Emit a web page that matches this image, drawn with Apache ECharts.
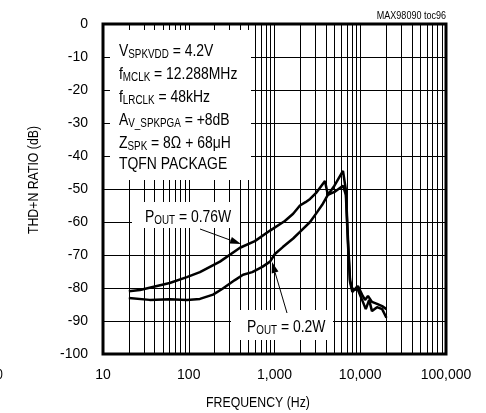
<!DOCTYPE html>
<html>
<head>
<meta charset="utf-8">
<script src="https://cdn.jsdelivr.net/npm/echarts@6/dist/echarts.min.js"></script>
<style>
html, body { margin: 0; padding: 0; background: #fff; }
#chart { width: 486px; height: 413px; }
</style>
</head>
<body>
<div id="chart"></div>
<script>
// axis ticks
var freqTicks = [10, 100, 1000, 10000, 100000];
var freqLabels = ['10', '100', '1,000', '10,000', '100,000'];
var minorSteps = [2, 3, 4, 5, 6, 7, 8, 9];

// P_OUT = 0.76W
var freqHigh = [20, 27, 38, 60, 95, 135, 231, 396, 590, 887, 1320, 1650, 1980, 2300, 2600, 3100, 3880, 4190, 5000, 6290, 6800, 7200, 7600, 8000, 8700, 9400, 10500, 11360, 12300, 13700, 15700, 18000, 20200];
var thdHigh = [-81, -80.6, -79.7, -78.5, -76.7, -75.2, -72, -67.8, -65.8, -62.6, -59.7, -57.5, -55, -54, -53, -51, -47.6, -51.8, -49, -44.5, -50.3, -65.5, -77.6, -80, -80.6, -79.4, -82, -83.6, -82.4, -84.2, -84.8, -85.5, -86.4];

// P_OUT = 0.2W
var freqLow = [20, 35, 60, 95, 135, 192, 245, 345, 430, 550, 720, 887, 1010, 1250, 1650, 1980, 2600, 3140, 3600, 4190, 5000, 6290, 6800, 7200, 7600, 8100, 9100, 10500, 11600, 12700, 13700, 15700, 18000, 20200];
var thdLow = [-83, -83.6, -83.4, -83.6, -83.3, -82, -80.3, -77.6, -76, -75.2, -73.6, -72, -69.7, -67.6, -65, -63, -60, -57, -54.8, -51.8, -50.9, -49, -51.8, -67, -78.2, -81.2, -79.7, -83.6, -86.4, -83.6, -87, -85.8, -86.4, -89];

var FONT = "'Liberation Sans', Arial, sans-serif";
var NARROW = 0.82; // the original lettering is condensed

function pairs(xs, ys) {
    var out = [];
    for (var i = 0; i < xs.length; i++) out.push([xs[i], ys[i]]);
    return out;
}

// minor vertical grid lines 20..90, 200..900 ...
var minorLines = [];
for (var d = 0; d < freqTicks.length - 1; d++) {
    minorSteps.forEach(function (m) { minorLines.push({xAxis: freqTicks[d] * m}); });
}

function arrow(x1, y1, x2, y2) {
    var dx = x2 - x1, dy = y2 - y1, len = Math.sqrt(dx * dx + dy * dy);
    var ux = dx / len, uy = dy / len, hl = 11, hw = 3.5;
    var bx = x2 - ux * hl, by = y2 - uy * hl;
    return [
        {type: 'line', zlevel: 1, shape: {x1: x1, y1: y1, x2: bx, y2: by}, style: {stroke: '#000', lineWidth: 1}},
        {type: 'polygon', zlevel: 1, shape: {points: [[x2, y2], [bx - uy * hw, by + ux * hw], [bx + uy * hw, by - ux * hw]]}, style: {fill: '#000'}}
    ];
}

function whiteBox(x, y, w, h) {
    return {type: 'rect', zlevel: 1, z: 0, shape: {x: x, y: y, width: w, height: h}, style: {fill: '#ffffff', stroke: null}};
}

var rich = {
    m: {fontSize: 17, lineHeight: 20, fontFamily: FONT, color: '#000'},
    s: {fontSize: 12, lineHeight: 12, verticalAlign: 'bottom', fontFamily: FONT, color: '#000'}
};

function note(x, y, text) {
    return {type: 'text', zlevel: 1, z: 1, x: x, y: y, scaleX: NARROW, style: {text: text, rich: rich, align: 'left', verticalAlign: 'middle', fill: '#000'}};
}

function plain(x, y, text, size, align, rot) {
    return {type: 'text', zlevel: 1, z: 1, x: x, y: y, rotation: rot || 0, scaleX: NARROW,
        style: {text: text, font: size + 'px ' + FONT, fill: '#000', align: align, verticalAlign: 'middle'}};
}

var graphics = [
    whiteBox(110, 30, 141, 150),
    whiteBox(132, 202, 108, 26),
    whiteBox(231, 310, 102, 30),
    note(119, 51, '{m|V}{s|SPKVDD}{m| = 4.2V}'),
    note(119, 74, '{m|f}{s|MCLK}{m| = 12.288MHz}'),
    note(119, 97, '{m|f}{s|LRCLK}{m| = 48kHz}'),
    note(119, 120, '{m|A}{s|V_SPKPGA}{m| = +8dB}'),
    note(119, 143, '{m|Z}{s|SPK}{m| = 8\u03A9 + 68\u03BCH}'),
    note(119, 164, '{m|TQFN PACKAGE}'),
    note(145, 217, '{m|P}{s|OUT}{m| = 0.76W}'),
    note(247, 327, '{m|P}{s|OUT}{m| = 0.2W}'),
    plain(446, 16, 'MAX98090 toc96', 11, 'right'),
    plain(34, 180, 'THD+N RATIO (dB)', 15, 'center', Math.PI / 2),
    plain(258, 403, 'FREQUENCY (Hz)', 15, 'center'),
    plain(-4, 375, '0', 15, 'left')
].concat(arrow(200, 229, 241, 244), arrow(287, 313, 272, 262));

var chart = echarts.init(document.getElementById('chart'), null, {renderer: 'canvas'});
chart.setOption({
    animation: false,
    backgroundColor: '#fff',
    grid: {left: 103, right: 40, top: 24, bottom: 59, show: true, borderColor: '#000', borderWidth: 3},
    xAxis: {
        type: 'log', logBase: 10, min: 10, max: 100000,
        axisLine: {show: false},
        axisTick: {show: false},
        splitLine: {show: true, lineStyle: {color: '#000', width: 1}},
        axisLabel: {
            color: '#000', fontSize: 14, fontFamily: FONT, margin: 14,
            formatter: function (v) {
                var i = Math.round(Math.log(v) / Math.LN10) - 1;
                return freqLabels[i] || '';
            }
        }
    },
    yAxis: {
        type: 'value', min: -100, max: 0, interval: 10,
        axisLine: {show: false},
        axisTick: {show: false},
        splitLine: {show: true, lineStyle: {color: '#000', width: 1}},
        axisLabel: {color: '#000', fontSize: 14, fontFamily: FONT, margin: 15}
    },
    graphic: {zlevel: 1, z: 10, elements: graphics},
    series: [
        {
            type: 'line', z: 1, data: [], silent: true,
            markLine: {
                silent: true, symbol: ['none', 'none'], label: {show: false},
                lineStyle: {color: '#000', width: 1, type: 'solid'},
                emphasis: {disabled: true},
                data: minorLines
            }
        },
        {
            name: '0.76W', type: 'line', z: 4, data: pairs(freqHigh, thdHigh),
            showSymbol: false, symbol: 'none',
            lineStyle: {color: '#000', width: 2.5}
        },
        {
            name: '0.2W', type: 'line', z: 4, data: pairs(freqLow, thdLow),
            showSymbol: false, symbol: 'none',
            lineStyle: {color: '#000', width: 2.5}
        }
    ]
});
</script>
</body>
</html>
